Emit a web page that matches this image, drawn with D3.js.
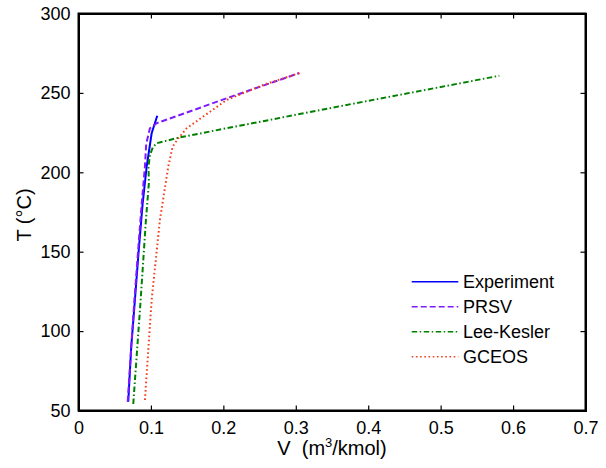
<!DOCTYPE html>
<html>
<head>
<meta charset="utf-8">
<script src="https://cdn.jsdelivr.net/npm/d3@7"></script>
<style>
  html, body { margin: 0; padding: 0; background: #fff; }
  svg { display: block; font-family: "Liberation Sans", Arial, Helvetica, sans-serif; }
  text { white-space: pre; }
</style>
</head>
<body>
<svg id="chart" width="606" height="468"></svg>
<script>
// Molar volume (m^3/kmol) vs temperature (°C) for each data source
const experimentV = [0.0687, 0.0728, 0.0779, 0.0830, 0.0885, 0.0941, 0.1010, 0.1087];
const experimentT = [55.5, 90, 119.6, 150, 180, 203.5, 224.6, 235.6];

const prsvV = [0.0679, 0.0728, 0.0772, 0.0822, 0.0872, 0.0917, 0.0935, 0.0986, 0.1079, 0.2044, 0.305];
const prsvT = [55.5, 90, 119.6, 150, 180, 203.5, 218, 227.7, 230.9, 246.6, 262.5];

const leeKeslerV = [0.0756, 0.0858, 0.0931, 0.0972, 0.0966, 0.0986, 0.1028, 0.1079, 0.1400, 0.3607, 0.581];
const leeKeslerT = [54.1, 119.6, 170.0, 193.3, 203.4, 210.9, 215.9, 218.3, 222.0, 241.6, 260.8];

const gceosV = [0.0917, 0.1010, 0.1124, 0.1239, 0.1299, 0.1377, 0.1492, 0.2044, 0.2549, 0.305];
const gceosT = [56.6, 119.6, 170, 203.5, 216.1, 221.4, 227.7, 245.5, 255, 262.5];

const seriesNames = ["Experiment", "PRSV", "Lee-Kesler", "GCEOS"];
const xTicks = [0, 0.1, 0.2, 0.3, 0.4, 0.5, 0.6, 0.7];
const yTicks = [50, 100, 150, 200, 250, 300];

const styles = [
  { color: "#0000ff", dash: null },
  { color: "#7f1aff", dash: "6,3" },
  { color: "#008000", dash: "5.5,2.5,1.5,2.5" },
  { color: "#f0401e", dash: "1.6,2.6" }
];

const series = [
  d3.zip(experimentV, experimentT),
  d3.zip(prsvV, prsvT),
  d3.zip(leeKeslerV, leeKeslerT),
  d3.zip(gceosV, gceosT)
];

const svg = d3.select("#chart");
const box = { left: 78.5, right: 585.5, top: 13.5, bottom: 410.5 };

const x = d3.scaleLinear().domain([0, 0.7]).range([box.left, box.right]);
const y = d3.scaleLinear().domain([50, 300]).range([box.bottom, box.top]);

// Data lines (clipped to the axes box)
svg.append("defs").append("clipPath").attr("id", "plotClip")
  .append("rect").attr("x", box.left).attr("y", box.top)
  .attr("width", box.right - box.left).attr("height", box.bottom - box.top);

const line = d3.line().x(d => x(d[0])).y(d => y(d[1]));
const plot = svg.append("g").attr("clip-path", "url(#plotClip)");
series.forEach((s, i) => {
  plot.append("path")
    .datum(s)
    .attr("d", line)
    .attr("fill", "none")
    .attr("stroke", styles[i].color)
    .attr("stroke-width", 2)
    .attr("stroke-dasharray", styles[i].dash)
    .attr("stroke-linejoin", "round");
});

// Axes with inward ticks, mirrored on top and right
const tickLen = 5;
const fontSize = 18;
const labelSize = 20;
const xAxis = d3.axisBottom(x).tickValues(xTicks).tickSize(-tickLen).tickPadding(11)
  .tickFormat(d => d === 0 ? "0" : d3.format(".1f")(d));
const yAxis = d3.axisLeft(y).tickValues(yTicks).tickSize(-tickLen).tickPadding(8)
  .tickFormat(d3.format("d"));

const gx = svg.append("g").attr("transform", `translate(0,${box.bottom})`).call(xAxis);
const gy = svg.append("g").attr("transform", `translate(${box.left},0)`).call(yAxis);
const gxTop = svg.append("g").attr("transform", `translate(0,${box.top})`)
  .call(d3.axisTop(x).tickValues(xTicks).tickSize(-tickLen).tickFormat(""));
const gyRight = svg.append("g").attr("transform", `translate(${box.right},0)`)
  .call(d3.axisRight(y).tickValues(yTicks).tickSize(-tickLen).tickFormat(""));

[gx, gy, gxTop, gyRight].forEach(g => {
  g.select(".domain").attr("stroke", "#000").attr("stroke-width", 2);
  g.selectAll(".tick line").attr("stroke", "#000").attr("stroke-width", 1.2);
  g.selectAll(".tick text").attr("fill", "#000")
    .style("font-size", fontSize + "px")
    .style("font-family", '"Liberation Sans", Arial, sans-serif');
});
// square corners on the axes box
svg.append("rect")
  .attr("x", box.left).attr("y", box.top)
  .attr("width", box.right - box.left).attr("height", box.bottom - box.top)
  .attr("fill", "none").attr("stroke", "#000").attr("stroke-width", 2);

// Axis labels
const xl = svg.append("text")
  .attr("x", 332).attr("y", 455)
  .attr("text-anchor", "middle")
  .style("font-size", labelSize + "px")
  .attr("fill", "#000");
xl.append("tspan").text("V  (m");
xl.append("tspan").attr("dy", -8).style("font-size", "13px").text("3");
xl.append("tspan").attr("dy", 8).text("/kmol)");

svg.append("text")
  .attr("transform", `translate(31,215) rotate(-90)`)
  .attr("text-anchor", "middle")
  .style("font-size", labelSize + "px")
  .attr("fill", "#000")
  .text("T (°C)");

// Legend
const legend = svg.append("g");
seriesNames.forEach((name, i) => {
  const ly = 281.7 + i * 25;
  legend.append("line")
    .attr("x1", 411.7).attr("x2", 458.3)
    .attr("y1", ly).attr("y2", ly)
    .attr("stroke", styles[i].color)
    .attr("stroke-width", 1.5)
    .attr("stroke-dasharray", styles[i].dash);
  legend.append("text")
    .attr("x", 463).attr("y", ly)
    .attr("dy", "0.36em")
    .style("font-size", fontSize + "px")
    .attr("fill", "#000")
    .text(name);
});
</script>
</body>
</html>
